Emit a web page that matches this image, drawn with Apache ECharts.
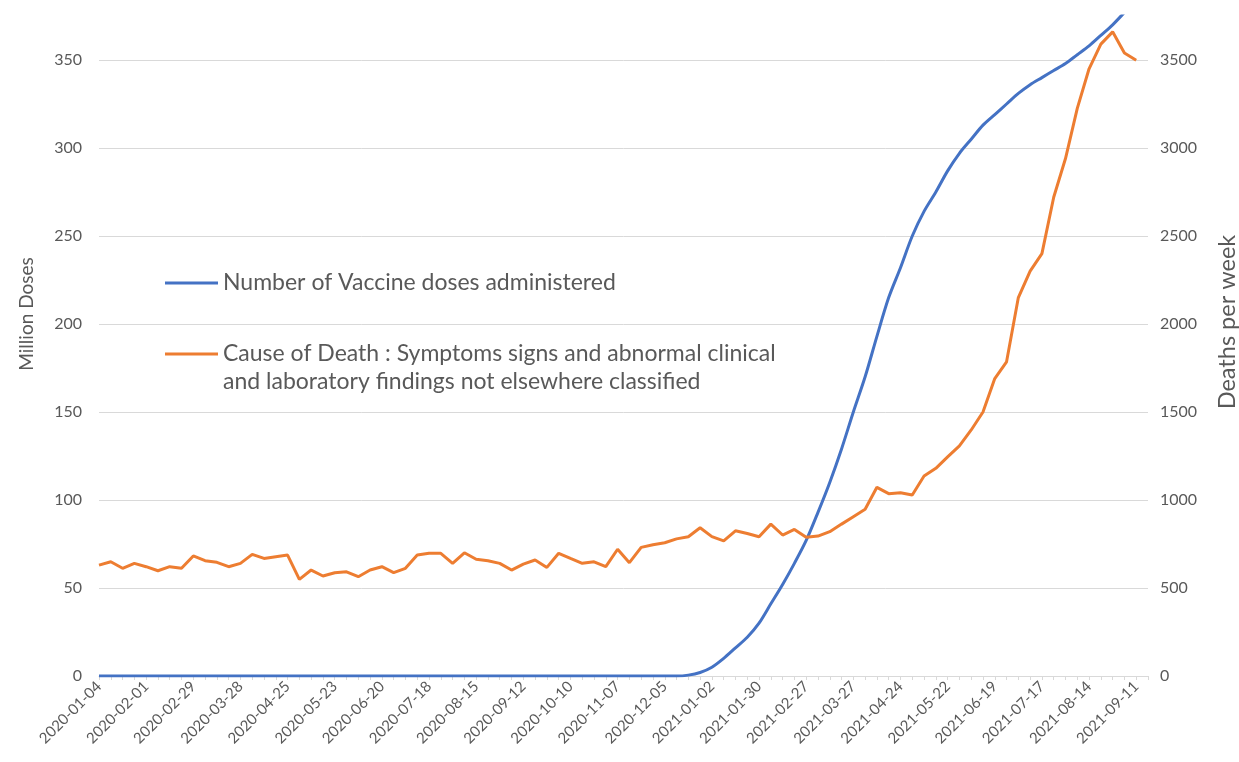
<!DOCTYPE html>
<html>
<head>
<meta charset="utf-8">
<script src="https://cdn.jsdelivr.net/npm/echarts@6/dist/echarts.min.js"></script>
<style>
html,body{margin:0;padding:0;background:#fff;overflow:hidden;}
#chart{width:1239px;height:762px;}
</style>
</head>
<body>
<div id="chart"></div>
<script>
const weeks = [
'2020-01-04','2020-01-11','2020-01-18','2020-01-25','2020-02-01','2020-02-08','2020-02-15','2020-02-22','2020-02-29',
'2020-03-07','2020-03-14','2020-03-21','2020-03-28','2020-04-04','2020-04-11','2020-04-18','2020-04-25',
'2020-05-02','2020-05-09','2020-05-16','2020-05-23','2020-05-30','2020-06-06','2020-06-13','2020-06-20','2020-06-27',
'2020-07-04','2020-07-11','2020-07-18','2020-07-25','2020-08-01','2020-08-08','2020-08-15','2020-08-22','2020-08-29',
'2020-09-05','2020-09-12','2020-09-19','2020-09-26','2020-10-03','2020-10-10','2020-10-17','2020-10-24','2020-10-31',
'2020-11-07','2020-11-14','2020-11-21','2020-11-28','2020-12-05','2020-12-12','2020-12-19','2020-12-26',
'2021-01-02','2021-01-09','2021-01-16','2021-01-23','2021-01-30','2021-02-06','2021-02-13','2021-02-20','2021-02-27',
'2021-03-06','2021-03-13','2021-03-20','2021-03-27','2021-04-03','2021-04-10','2021-04-17','2021-04-24',
'2021-05-01','2021-05-08','2021-05-15','2021-05-22','2021-05-29','2021-06-05','2021-06-12','2021-06-19','2021-06-26',
'2021-07-03','2021-07-10','2021-07-17','2021-07-24','2021-07-31','2021-08-07','2021-08-14','2021-08-21','2021-08-28',
'2021-09-04','2021-09-11','2021-09-18'
];

const vaccineDosesMillions = [
0,0,0,0,0,0,0,0,0,0,
0,0,0,0,0,0,0,0,0,0,
0,0,0,0,0,0,0,0,0,0,
0,0,0,0,0,0,0,0,0,0,
0,0,0,0,0,0,0,0,0,0,
0.5,2,5,10,16,22,30,41,52,64,
77,93,110,129,150,170,193,215,232,250,
264,275,287,297,305,313,319,325,331,336,
340,344,348,353,358,364,370,377,384
];

const deathsPerWeek = [
630,649,612,640,621,598,621,612,682,655,
646,621,640,691,668,678,687,549,602,568,
587,592,564,602,621,587,612,687,697,697,
640,700,663,655,640,602,636,659,617,697,
668,640,649,621,720,644,731,746,757,779,
791,842,792,768,825,810,791,863,801,833,
788,795,820,863,905,947,1072,1036,1041,1028,
1136,1180,1245,1308,1398,1500,1690,1785,2150,2300,
2400,2720,2940,3225,3450,3590,3660,3540,3499
];

const seriesNames = [
'Number of Vaccine doses administered',
'Cause of Death : Symptoms signs and abnormal clinical and laboratory findings not elsewhere classified'
];
// second legend entry wraps onto two lines; the leading empty line keeps the
// legend symbol level with the first text line
const legendLines = {
[seriesNames[1]]: '\nCause of Death : Symptoms signs and abnormal clinical\nand laboratory findings not elsewhere classified'
};

const FONT = 'Lato';
const TXT = '#595959';
const GRID = '#d9d9d9';

const chart = echarts.init(document.getElementById('chart'), null, {renderer: 'canvas'});
chart.setOption({
  animation: false,
  backgroundColor: '#ffffff',
  textStyle: {fontFamily: FONT},
  grid: {left: 99, right: 91, top: 16, bottom: 86, containLabel: false, outerBoundsMode: 'none'},
  legend: [
    {
      data: [seriesNames[0]],
      left: 165, top: 269, padding: 0,
      itemWidth: 53, itemHeight: 3,
      icon: 'rect',
      selectedMode: false,
      textStyle: {fontFamily: FONT, fontSize: 23, color: TXT, lineHeight: 28}
    },
    {
      data: [seriesNames[1]],
      left: 165, top: 312, padding: 0,
      itemWidth: 53, itemHeight: 3,
      icon: 'rect',
      selectedMode: false,
      formatter: function (n) { return legendLines[n] || n; },
      textStyle: {fontFamily: FONT, fontSize: 23, color: TXT, lineHeight: 28}
    }
  ],
  xAxis: {
    type: 'category',
    data: weeks,
    boundaryGap: false,
    axisLine: {lineStyle: {color: GRID, width: 1}},
    axisTick: {show: true, interval: 0, length: 4, lineStyle: {color: GRID}},
    axisLabel: {interval: 3, rotate: 45, fontFamily: FONT, fontSize: 15, color: TXT, margin: 8}
  },
  yAxis: [
    {
      type: 'value',
      min: 0, max: 375, interval: 50,
      name: 'Million Doses',
      nameLocation: 'middle',
      nameGap: 63,
      nameTextStyle: {fontFamily: FONT, fontSize: 19, color: TXT, padding: [0, 0, 0, 64]},
      axisLine: {show: false},
      axisTick: {show: false},
      axisLabel: {fontFamily: FONT, fontSize: 16, color: TXT, margin: 17, showMaxLabel: false},
      splitLine: {show: true, showMaxLine: false, lineStyle: {color: GRID, width: 1}}
    },
    {
      type: 'value',
      min: 0, max: 3750, interval: 500,
      name: 'Deaths per week',
      nameLocation: 'middle',
      nameGap: 67,
      nameTextStyle: {fontFamily: FONT, fontSize: 23.5, color: TXT, padding: [0, 0, 0, 48]},
      axisLine: {show: false},
      axisTick: {show: false},
      axisLabel: {fontFamily: FONT, fontSize: 16, color: TXT, margin: 12, showMaxLabel: false,
        formatter: function (v) { return String(v); }},
      splitLine: {show: false}
    }
  ],
  series: [
    {
      name: seriesNames[0],
      type: 'line',
      yAxisIndex: 0,
      data: vaccineDosesMillions,
      showSymbol: false,
      smooth: 0.3,
      lineStyle: {color: '#4472C4', width: 3},
      itemStyle: {color: '#4472C4'},
      z: 2
    },
    {
      name: seriesNames[1],
      type: 'line',
      yAxisIndex: 1,
      data: deathsPerWeek,
      showSymbol: false,
      lineStyle: {color: '#ED7D31', width: 3},
      itemStyle: {color: '#ED7D31'},
      z: 3
    }
  ]
});
</script>
</body>
</html>
